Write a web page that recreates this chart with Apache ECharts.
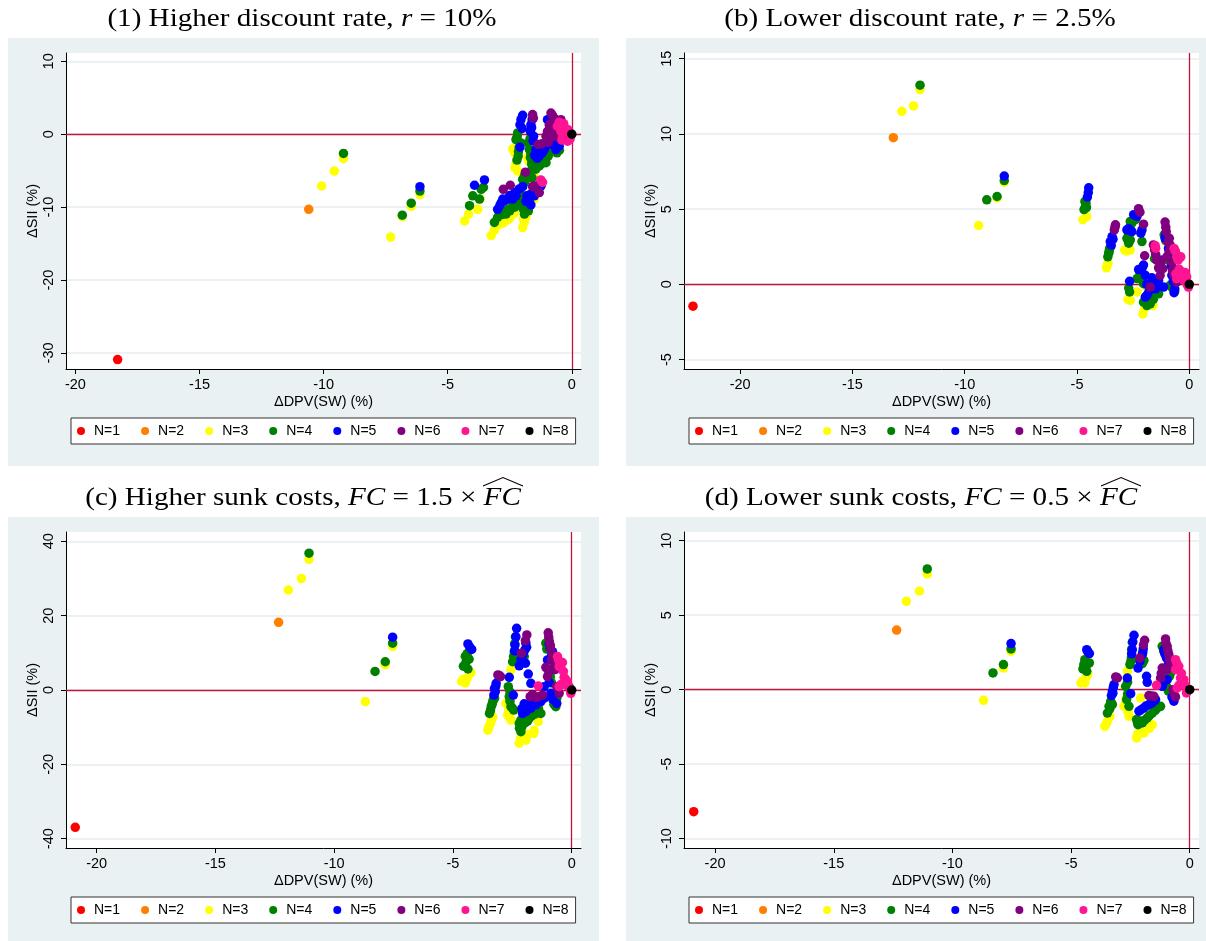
<!DOCTYPE html>
<html><head><meta charset="utf-8">
<script src="https://cdn.jsdelivr.net/npm/echarts@6/dist/echarts.min.js"></script>
<style>html,body{margin:0;padding:0;background:#fff}#c{width:1206px;height:941px}</style>
</head><body><div id="c"></div>
<script>
// ---------- names, colours, ticks ----------
const seriesNames = ['N=1','N=2','N=3','N=4','N=5','N=6','N=7','N=8'];
const seriesColors = ['#ff0000','#ff7f00','#ffff00','#008000','#0000ff','#800080','#ff1493','#000000'];
const xTicks = [-20,-15,-10,-5,0];
const yTicksA = [-30,-20,-10,0,10];
const yTicksB = [-5,0,5,10,15];
const yTicksC = [-40,-20,0,20,40];
const yTicksD = [-10,-5,0,5,10];
const titleA = '(1) Higher discount rate, {i|r} = 10%';
const titleB = '(b) Lower discount rate, {i|r} = 2.5%';
const titleC = '(c) Higher sunk costs, {i|FC} = 1.5 × {i|FC}';
const titleD = '(d) Lower sunk costs, {i|FC} = 0.5 × {i|FC}';
const xName = 'ΔDPV(SW) (%)';
const yName = 'ΔSII (%)';

// ---------- panel (1): r = 10% ----------
const a1 = [[-18.3,-30.9]];
const a2 = [[-10.6,-10.3]];
const a3 = [[-10.08,-7.09],[-9.57,-5.05],[-9.2,-3.36],[-7.3,-14.1],[-6.83,-11.3],[-6.47,-9.9],[-6.12,-8.3],
  [-4.32,-11.9],[-4.16,-10.95],[-3.79,-10.3],[-3.69,-8.9],[-3.25,-13.9],[-3.12,-13.2],[-2.99,-12.5],[-2.78,-12.2],
  [-2.52,-11.6],[-2.45,-11.2],[-1.98,-12.8],[-1.91,-12.1],[-1.85,-11.4],[-1.71,-9.8],[-1.51,-8.9],[-1.5,-5.9],
  [-2.38,-2.0],[-2.29,-4.6],[-2.18,-5.05],[-1.78,-3.2],[-1.74,-3.7],[-2.3,-2.6],[-2.25,-4.0],
  [-2.9,-12.0],[-2.6,-11.8],[-2.3,-10.8],[-1.95,-11.6],[-1.75,-10.6]];
const a4 = [[-9.2,-2.63],[-6.83,-11.1],[-6.47,-9.45],[-6.12,-7.8],[-4.12,-9.8],[-3.99,-8.45],[-3.72,-8.9],[-3.65,-7.55],
  [-3.56,-7.3],[-3.12,-12.1],[-2.99,-11.4],[-2.92,-10.7],[-2.65,-10.95],[-2.58,-10.3],[-2.38,-9.8],[-2.18,-9.4],
  [-1.91,-10.95],[-1.75,-10.5],[-1.85,-9.8],[-2.05,-8.9],[-1.98,-6.2],[-1.91,-5.7],[-1.65,-5.05],[-1.45,-4.8],
  [-1.24,-4.1],[-1.04,-3.9],[-1.31,-4.35],[-2.18,0.18],[-2.25,-0.73],[-2.16,-3.0],[-2.21,-3.55],[-2.05,-1.2],
  [-1.75,-1.2],[-1.71,-2.1],[-1.67,-3.2],[-1.62,-4.1],[-0.6,-2.55],[-0.78,-2.3],
  [-2.2,-0.3],[-2.15,-2.4],[-2.12,-1.8],[-1.68,-0.6],[-1.65,-2.7],[-1.6,-3.7],[-1.4,-3.7],[-1.15,-3.3],
  [-0.95,-3.0],[-1.35,-4.0],[-0.7,-1.9],[-0.5,-2.2],[-2.8,-11.0],[-2.5,-10.5],[-2.3,-10.0],[-2.1,-9.0],
  [-2.0,-8.4],[-1.95,-10.3],[-1.8,-9.2],[-1.7,-8.3],[-1.6,-6.0],[-1.9,-6.6]];
const a5 = [[-6.12,-7.2],[-3.92,-7.0],[-3.52,-6.27],[-2.99,-10.3],[-2.85,-9.4],[-2.78,-8.9],[-2.58,-8.9],[-2.38,-8.9],
  [-2.25,-8.45],[-2.12,-7.5],[-1.98,-7.2],[-1.71,-8.9],[-1.65,-9.7],[-1.81,-8.45],[-1.51,-8.45],[-1.38,-7.55],
  [-1.24,-7.1],[-1.58,-8.0],[-1.98,2.6],[-2.09,1.3],[-2.09,-1.77],[-1.65,1.3],[-1.67,0.4],[-1.54,-0.27],
  [-1.45,-2.1],[-1.31,-3.0],[-1.11,-2.1],[-1.38,-2.55],[-1.24,-1.6],[-0.98,-1.2],[-0.98,2.0],[-0.91,-0.05],
  [-0.78,-1.4],[-0.64,-2.1],[-0.51,-1.64],[-2.05,2.0],[-2.0,0.8],[-1.6,2.0],[-1.62,0.9],[-1.56,-0.9],
  [-1.4,-3.3],[-1.2,-2.6],[-1.05,-1.7],[-1.3,-1.9],[-1.5,-2.9],[-0.85,1.5],[-0.8,0.6],[-0.7,-0.6],[-0.6,-1.0],
  [-0.88,-0.7],[-2.7,-9.1],[-2.9,-9.8],[-2.5,-8.4],[-2.3,-8.0],[-1.85,-9.2],[-1.45,-7.8],[-1.3,-6.9]];
const a6 = [[-2.76,-7.55],[-2.48,-7.0],[-1.87,-5.2],[-1.58,-7.2],[-1.31,-8.0],[-1.51,-7.1],[-1.58,2.7],[-1.35,-1.4],
  [-0.95,-1.1],[-0.84,2.9],[-0.71,2.2],[-0.91,1.3],[-0.98,0.4],[-0.64,0.86],[-1.04,-0.27],[-0.44,2.0],
  [-0.64,0.18],[-0.51,-0.5],[-1.55,2.2],[-1.2,-1.3],[-0.78,2.6],[-0.6,1.6],[-0.55,0.5],[-0.75,-0.3],[-0.87,0.9]];
const a7 = [[-0.51,1.64],[-0.33,1.45],[-0.28,0.86],[-0.44,0.4],[-0.2,0.18],[-0.07,-0.64],[-0.37,-0.27],[-0.58,1.1],
  [-0.17,-0.95],[-1.25,-6.27],[-1.18,-6.6],[-0.1,0.3],[-0.25,-0.5],[-0.45,1.0],[-0.3,0.0],[-0.15,0.6],
  [-0.05,-0.3],[-0.4,-0.8]];
const a8 = [[0,0]];

// ---------- panel (b): r = 2.5% ----------
const b1 = [[-22.1,-1.45]];
const b2 = [[-13.18,9.75]];
const b3 = [[-12.8,11.5],[-12.28,11.86],[-11.99,12.95],[-9.38,3.91],[-8.56,5.75],[-8.24,6.8],[-4.74,4.3],[-4.57,4.5],
  [-3.66,1.28],[-3.69,1.1],[-2.88,2.28],[-2.63,2.28],[-2.78,2.21],[-2.73,-1.0],[-2.63,-1.07],[-2.07,-1.97],
  [-1.62,-1.41],[-2.33,-0.51],[-1.89,-0.18],[-3.62,1.4],[-2.72,2.35],[-2.0,-1.6],[-1.7,-1.2]];
const b4 = [[-11.99,13.24],[-9.02,5.62],[-8.56,5.84],[-8.24,6.9],[-4.65,5.5],[-4.62,5.2],[-4.69,4.97],[-3.55,2.39],
  [-3.59,2.06],[-3.63,1.83],[-2.63,4.18],[-2.78,3.06],[-2.63,2.95],[-2.7,2.73],[-2.11,2.84],[-2.56,4.07],
  [-2.7,-0.25],[-2.66,-0.51],[-2.33,0.38],[-2.04,0.04],[-2.04,-1.19],[-1.89,-1.41],[-1.74,-1.3],[-1.37,-0.63],
  [-2.19,0.72],[-1.12,3.29],[-0.86,-0.07],[-0.71,-0.29],[-1.55,1.7],[-4.6,5.4],[-4.58,5.1],[-3.57,2.2],
  [-3.5,2.5],[-2.7,3.3],[-2.65,3.8],[-2.4,4.3],[-2.72,2.9],[-2.2,0.5],[-1.95,-0.9],[-1.8,-1.1],[-1.6,-1.0],
  [-1.45,-0.5],[-1.05,2.9],[-0.95,1.6],[-0.78,-0.2],[-0.65,-0.45]];
const b5 = [[-8.24,7.2],[-4.48,6.42],[-4.54,5.8],[-3.44,3.18],[-3.52,2.84],[-2.48,4.63],[-2.33,4.52],[-2.78,3.62],
  [-2.56,3.51],[-2.11,3.62],[-2.16,3.4],[-2.66,0.2],[-2.04,1.28],[-2.26,0.98],[-1.96,0.6],[-1.67,0.43],
  [-1.45,0.04],[-1.89,-0.74],[-1.96,-0.85],[-1.37,0.27],[-1.08,3.06],[-0.93,2.39],[-1.15,-0.18],[-0.78,0.6],
  [-0.68,-0.56],[-4.5,6.1],[-3.4,3.0],[-3.48,2.6],[-2.4,4.6],[-2.7,3.7],[-2.1,1.1],[-1.9,0.0],[-1.8,-0.5],
  [-1.6,0.3],[-1.5,-0.3],[-1.05,3.3],[-0.9,2.0],[-0.8,1.2],[-0.72,0.2],[-0.65,-0.3]];
const b6 = [[-3.29,3.96],[-3.34,3.62],[-2.26,5.03],[-2.04,4.0],[-1.99,1.9],[-1.6,2.62],[-1.37,1.1],[-1.3,0.6],
  [-1.74,-0.18],[-1.08,4.14],[-1.03,3.51],[-0.89,3.06],[-0.86,2.62],[-1.0,1.83],[-1.23,1.61],[-1.18,1.05],
  [-0.71,1.05],[-0.68,0.6],[-0.56,0.16],[-3.31,3.8],[-2.2,4.8],[-1.55,2.3],[-1.5,2.0],[-1.45,1.6],
  [-1.05,3.8],[-0.95,2.8],[-0.9,2.2],[-0.8,1.5],[-0.75,0.9],[-0.6,0.4]];
const b7 = [[-1.52,2.57],[-0.68,2.39],[-0.56,1.83],[-0.38,1.83],[-0.41,0.83],[-0.19,0.78],[-0.12,0.49],[-0.04,-0.18],
  [-0.56,0.38],[-1.5,2.4],[-0.62,2.2],[-0.5,1.6],[-0.45,1.0],[-0.3,0.8],[-0.25,0.3],[-0.1,0.0],[-0.6,0.7]];
const b8 = [[0,0]];

// ---------- panel (c): FC = 1.5 x FC-hat ----------
const c1 = [[-20.9,-36.95]];
const c2 = [[-12.34,18.2]];
const c3 = [[-11.93,26.9],[-11.38,30.0],[-11.06,35.1],[-8.69,-3.14],[-7.85,6.8],[-7.54,11.7],[-4.64,2.33],[-4.48,1.9],
  [-4.4,3.2],[-4.24,4.6],[-3.53,-10.8],[-3.42,-9.0],[-3.32,-7.2],[-2.56,5.4],[-2.77,-3.6],[-2.56,-8.1],
  [-2.7,-6.7],[-2.21,-14.3],[-2.16,-13.0],[-1.93,-13.5],[-1.58,-10.9],[-1.41,-8.5],[-4.55,2.9],[-3.48,-9.8],
  [-3.38,-8.1],[-2.65,-5.5],[-2.6,-7.4],[-2.05,-12.2],[-1.85,-12.0],[-1.6,-11.7]];
const c4 = [[-11.06,36.8],[-8.28,5.0],[-7.85,7.6],[-7.54,12.6],[-4.48,9.06],[-4.32,8.3],[-4.56,6.4],[-4.37,5.65],
  [-3.32,-3.1],[-3.39,-4.5],[-3.46,-6.3],[-3.25,-2.2],[-2.37,14.3],[-2.42,10.3],[-2.49,7.6],[-2.67,0.9],
  [-2.63,-1.8],[-2.56,-4.5],[-2.44,-5.4],[-2.0,9.0],[-2.21,-9.0],[-2.14,-8.1],[-2.0,-7.2],[-1.79,-7.6],
  [-1.65,-6.3],[-1.51,-5.4],[-1.3,-6.3],[-2.14,-11.2],[-1.09,12.6],[-0.88,4.9],[-0.67,-4.5],[-0.63,-2.2],
  [-4.45,7.5],[-4.4,9.8],[-3.3,-2.6],[-3.35,-3.8],[-3.42,-5.5],[-2.4,12.5],[-2.45,9.0],[-2.6,-0.5],
  [-2.6,-3.0],[-2.5,-4.9],[-2.1,-9.9],[-1.95,-8.8],[-1.85,-8.3],[-1.7,-7.0],[-1.55,-6.5],[-1.4,-5.0],
  [-2.2,-10.3],[-2.05,8.1],[-1.05,11.0],[-0.9,3.5],[-0.75,-3.8],[-0.85,1.9]];
const c5 = [[-7.54,14.2],[-4.37,12.4],[-4.21,10.9],[-3.18,1.8],[-3.25,0.45],[-3.28,-1.35],[-2.32,16.6],[-2.39,12.1],
  [-2.63,3.4],[-2.46,-1.35],[-1.93,12.6],[-1.97,10.8],[-2.14,8.1],[-2.21,6.5],[-1.83,4.3],[-1.72,1.8],
  [-2.07,-6.3],[-1.93,-5.8],[-1.72,-4.9],[-1.51,-4.0],[-1.3,-3.1],[-1.16,-2.2],[-0.91,11.2],[-1.02,8.1],
  [-1.16,0.9],[-0.88,-0.9],[-0.63,-3.6],[-0.81,10.3],[-4.3,11.6],[-3.2,1.0],[-3.22,-0.5],[-2.35,14.3],
  [-2.4,10.5],[-2.1,-5.0],[-1.9,-4.6],[-1.8,-3.9],[-1.6,-3.4],[-1.4,-2.6],[-2.0,-3.7],[-1.9,11.5],
  [-2.05,9.5],[-1.95,7.2],[-0.95,12.5],[-0.85,9.2],[-1.0,5.5],[-0.95,2.0],[-0.8,-2.5]];
const c6 = [[-3.11,4.04],[-3.0,3.6],[-1.89,14.8],[-2.11,9.9],[-1.75,-1.8],[-1.51,-2.0],[-1.23,-1.35],[-0.99,15.4],
  [-0.94,13.0],[-0.88,10.8],[-1.09,6.1],[-1.02,3.6],[-0.74,7.2],[-0.63,0.9],[-0.53,-0.9],[-3.05,3.9],
  [-1.65,-1.2],[-1.4,-1.8],[-1.95,13.3],[-0.97,14.2],[-0.9,12.0],[-0.8,9.2],[-0.85,8.1],[-0.95,5.0],[-0.7,5.5]];
const c7 = [[-1.41,1.08],[-0.6,9.0],[-0.39,7.4],[-0.53,6.3],[-0.32,3.4],[-0.18,2.2],[-0.53,0.9],[-0.11,0.9],[-0.04,-0.9],
  [-0.55,8.0],[-0.45,6.8],[-0.35,5.0],[-0.25,2.8],[-0.45,1.5],[-0.2,1.2],[-0.05,-0.2]];
const c8 = [[0,0]];

// ---------- panel (d): FC = 0.5 x FC-hat ----------
const d1 = [[-20.9,-8.19]];
const d2 = [[-12.35,4.0]];
const d3 = [[-11.94,5.93],[-11.39,6.62],[-11.06,7.76],[-8.69,-0.72],[-7.85,1.45],[-7.53,2.57],[-4.58,0.45],[-4.42,0.45],
  [-4.34,0.89],[-4.29,1.07],[-3.58,-2.46],[-3.47,-2.13],[-3.36,-1.79],[-2.63,1.23],[-2.77,-1.12],[-2.56,-1.79],
  [-2.7,-0.89],[-2.24,-3.24],[-2.14,-2.91],[-1.93,-2.91],[-1.58,-2.35],[-2.07,-0.56],[-4.5,0.6],[-3.52,-2.3],
  [-2.68,-0.6],[-2.6,-1.5],[-2.2,-3.0],[-2.0,-2.9],[-1.7,-2.6]];
const d4 = [[-11.06,8.1],[-8.29,1.12],[-7.85,1.68],[-7.53,2.73],[-4.42,2.01],[-4.23,1.79],[-4.5,1.39],[-4.34,1.23],
  [-3.33,-0.78],[-3.4,-1.12],[-3.47,-1.57],[-3.26,-1.0],[-2.42,3.18],[-2.46,2.13],[-2.52,1.68],[-2.7,0.22],
  [-2.66,-0.67],[-2.56,-1.12],[-1.93,1.95],[-2.24,-2.01],[-2.18,-2.35],[-2.0,-2.24],[-1.79,-1.9],[-1.58,-1.57],
  [-1.37,-1.23],[-1.23,-1.12],[-1.16,2.91],[-0.81,1.12],[-0.98,0.22],[-4.46,1.7],[-4.38,1.5],[-3.3,-0.9],
  [-3.37,-1.3],[-2.45,2.7],[-2.48,1.9],[-2.62,0.5],[-2.62,-0.3],[-2.2,-2.2],[-2.1,-2.1],[-1.9,-2.05],
  [-1.7,-1.75],[-1.45,-1.4],[-1.3,-1.15],[-2.0,1.75],[-1.1,2.6],[-0.85,0.9],[-0.9,-0.1]];
const d5 = [[-7.53,3.09],[-4.34,2.68],[-4.23,2.42],[-3.19,0.34],[-3.26,-0.11],[-3.3,-0.4],[-2.35,3.65],[-2.42,2.68],
  [-2.63,0.78],[-2.49,-0.27],[-1.96,2.73],[-2.0,2.35],[-2.18,1.45],[-1.82,0.89],[-1.79,0.49],[-2.14,-1.45],
  [-1.93,-1.23],[-1.72,-1.0],[-1.44,-0.67],[-1.09,2.68],[-0.98,2.13],[-1.16,0.22],[-0.95,0.67],[-0.67,-0.78],
  [-4.3,2.55],[-3.22,0.15],[-3.24,-0.25],[-2.4,3.2],[-2.45,2.4],[-2.05,-1.35],[-1.85,-1.1],[-1.6,-0.9],
  [-1.5,-0.75],[-1.98,2.5],[-2.1,1.9],[-1.05,2.4],[-0.9,1.7],[-1.1,0.5],[-0.75,-0.5]];
const d6 = [[-3.12,0.85],[-3.05,0.78],[-1.9,3.31],[-2.1,2.13],[-1.72,-0.4],[-1.51,-0.45],[-1.02,3.4],[-0.95,2.91],
  [-0.88,2.35],[-1.16,1.45],[-1.23,0.78],[-0.95,1.34],[-0.67,-0.22],[-0.6,-0.49],[-3.08,0.82],[-1.62,-0.42],
  [-1.95,3.0],[-1.0,3.1],[-0.92,2.6],[-0.85,2.0],[-0.8,1.6],[-1.2,1.1],[-0.7,0.0]];
const d7 = [[-1.4,0.29],[-0.6,2.01],[-0.46,1.57],[-0.6,1.34],[-0.39,0.78],[-0.25,0.67],[-0.53,0.11],[-0.11,0.11],[-0.14,-0.22],
  [-0.55,1.8],[-0.5,1.45],[-0.35,1.1],[-0.3,0.45],[-0.2,0.3],[-0.05,0.0],[-0.45,0.3]];
const d8 = [[0,0]];

// ---------- layout ----------
const FONT = '"Liberation Sans", Arial, sans-serif';
const BG = '#eaf1f3';
const GRIDLINE = '#e6eef0';
const ZERO = '#c0143c';

const panels = [
  {data:[a1,a2,a3,a4,a5,a6,a7,a8], yt:yTicksA, xr:[-20.38,0.37], yr:[-32.2,11.14],
   grid:{left:66,top:53,width:515,height:316}, box:[8,38,591,428], legend:{left:71,top:418},
   title:titleA, tpos:[302,19]},
  {data:[b1,b2,b3,b4,b5,b6,b7,b8], yt:yTicksB, xr:[-22.5,0.43], yr:[-5.63,15.38],
   grid:{left:684,top:53,width:515,height:316}, box:[626,38,580,428], legend:{left:689,top:418},
   title:titleB, tpos:[920,19]},
  {data:[c1,c2,c3,c4,c5,c6,c7,c8], yt:yTicksC, xr:[-21.29,0.39], yr:[-42.5,42.5],
   grid:{left:66,top:532,width:515,height:316}, box:[8,517,591,424], legend:{left:71,top:897},
   title:titleC, tpos:[303,498], hat:[483,523]},
  {data:[d1,d2,d3,d4,d5,d6,d7,d8], yt:yTicksD, xr:[-21.31,0.39], yr:[-10.63,10.58],
   grid:{left:684,top:532,width:515,height:316}, box:[626,517,580,424], legend:{left:689,top:897},
   title:titleD, tpos:[921,498], hat:[1101,1141]}
];

const option = {animation:false, backgroundColor:'#fff', grid:[], xAxis:[], yAxis:[], series:[], legend:[], graphic:[]};

panels.forEach((p, i) => {
  option.graphic.push({type:'rect', z:-10, shape:{x:p.box[0], y:p.box[1], width:p.box[2], height:p.box[3]},
    style:{fill:BG}, silent:true});
  option.graphic.push({type:'text', x:p.tpos[0], y:p.tpos[1], scaleX:1.12, z:10,
    style:{text:p.title, fontFamily:'Liberation Serif', fontSize:26, fill:'#000', align:'center', verticalAlign:'middle',
      rich:{i:{fontFamily:'Liberation Serif', fontSize:26, fontStyle:'italic', fill:'#000'}}}});
  if (p.hat) {
    const h = p.hat, m = (h[0]+h[1])/2;
    option.graphic.push({type:'polyline', z:10, shape:{points:[[h[0],486],[m,477.5],[h[1],486]]},
      style:{stroke:'#000', lineWidth:1.1, fill:null}});
  }
  option.grid.push(Object.assign({show:true, backgroundColor:'#fff', borderWidth:0}, p.grid));
  option.xAxis.push({gridIndex:i, type:'value', min:p.xr[0], max:p.xr[1],
    axisLine:{show:true, onZero:false, lineStyle:{color:'#000', width:1}},
    axisTick:{show:true, length:5, customValues:xTicks, lineStyle:{color:'#000'}},
    axisLabel:{customValues:xTicks, margin:8, fontSize:14.5, color:'#000', fontFamily:FONT},
    splitLine:{show:false},
    name:xName, nameLocation:'middle', nameGap:25,
    nameTextStyle:{fontSize:14.5, color:'#000', fontFamily:FONT}});
  option.yAxis.push({gridIndex:i, type:'value', min:p.yr[0], max:p.yr[1],
    axisLine:{show:true, onZero:false, lineStyle:{color:'#000', width:1}},
    axisTick:{show:true, length:5, customValues:p.yt, lineStyle:{color:'#000'}},
    axisLabel:{customValues:p.yt, rotate:90, margin:10, fontSize:14.5, color:'#000', fontFamily:FONT},
    splitLine:{show:true, lineStyle:{color:GRIDLINE, width:1.5}},
    name:yName, nameLocation:'middle', nameGap:25, nameRotate:90,
    nameTextStyle:{fontSize:14.5, color:'#000', fontFamily:FONT}});
  p.data.forEach((d, k) => {
    const s = {type:'scatter', name:seriesNames[k], xAxisIndex:i, yAxisIndex:i, data:d, symbol:'circle',
      symbolSize:9.5, z:10, itemStyle:{color:seriesColors[k], opacity:1}, emphasis:{disabled:true}};
    if (k === 0) {
      s.markLine = {silent:true, symbol:'none', z:5, label:{show:false},
        lineStyle:{color:ZERO, width:1.3, type:'solid'}, emphasis:{disabled:true},
        data:[{xAxis:0},{yAxis:0}]};
    }
    option.series.push(s);
  });
  option.legend.push({data:seriesNames, left:p.legend.left, top:p.legend.top, orient:'horizontal',
    icon:'circle', itemWidth:16, itemHeight:8, itemGap:21, padding:[5,7,5,6],
    borderColor:'#333', borderWidth:1, backgroundColor:'#fff', selectedMode:false,
    textStyle:{fontSize:14, color:'#000', fontFamily:FONT, lineHeight:16}});
});

const chart = echarts.init(document.getElementById('c'), null, {renderer:'canvas'});
chart.setOption(option);
</script>
</body></html>
